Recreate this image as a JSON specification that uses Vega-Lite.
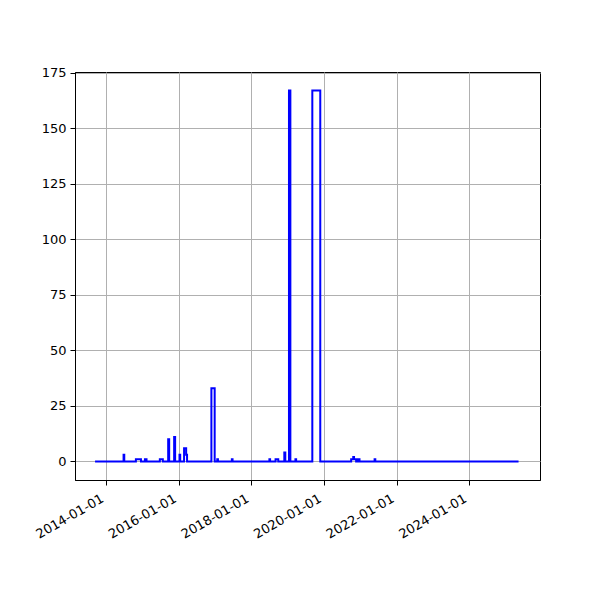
{
  "$schema": "https://vega.github.io/schema/vega-lite/v6.json",
  "width": 465,
  "height": 408,
  "padding": {"left": 75, "top": 72, "right": 60, "bottom": 120},
  "autosize": {"type": "none"},
  "background": "white",
  "config": {
    "view": {"stroke": "black", "strokeWidth": 1},
    "axis": {
      "labelFont": "DejaVu Sans",
      "labelFontSize": 13,
      "labelColor": "black",
      "domainColor": "black",
      "tickColor": "black",
      "tickSize": 5,
      "tickWidth": 1,
      "labelPadding": 4,
      "grid": true,
      "gridColor": "#b0b0b0",
      "gridWidth": 1,
      "title": null
    }
  },
  "data": {
    "values": [
      {"date": "2013-09-10", "value": 0},
      {"date": "2014-06-24", "value": 3},
      {"date": "2014-07-01", "value": 0},
      {"date": "2014-10-26", "value": 1},
      {"date": "2014-12-16", "value": 0},
      {"date": "2015-01-25", "value": 1},
      {"date": "2015-02-10", "value": 0},
      {"date": "2015-06-24", "value": 1},
      {"date": "2015-07-24", "value": 0},
      {"date": "2015-09-16", "value": 10},
      {"date": "2015-09-26", "value": 0},
      {"date": "2015-11-15", "value": 11},
      {"date": "2015-11-25", "value": 0},
      {"date": "2016-01-08", "value": 3},
      {"date": "2016-01-15", "value": 0},
      {"date": "2016-02-23", "value": 6},
      {"date": "2016-03-15", "value": 3},
      {"date": "2016-03-24", "value": 0},
      {"date": "2016-11-24", "value": 33},
      {"date": "2016-12-27", "value": 0},
      {"date": "2017-01-22", "value": 1},
      {"date": "2017-01-29", "value": 0},
      {"date": "2017-06-18", "value": 1},
      {"date": "2017-06-25", "value": 0},
      {"date": "2018-07-01", "value": 1},
      {"date": "2018-07-08", "value": 0},
      {"date": "2018-09-01", "value": 1},
      {"date": "2018-09-28", "value": 0},
      {"date": "2018-11-28", "value": 4},
      {"date": "2018-12-08", "value": 0},
      {"date": "2019-01-14", "value": 167},
      {"date": "2019-01-28", "value": 0},
      {"date": "2019-03-20", "value": 1},
      {"date": "2019-03-27", "value": 0},
      {"date": "2019-09-06", "value": 167},
      {"date": "2019-11-25", "value": 0},
      {"date": "2020-10-01", "value": 1},
      {"date": "2020-10-22", "value": 2},
      {"date": "2020-10-30", "value": 1},
      {"date": "2020-11-20", "value": 0},
      {"date": "2020-12-05", "value": 1},
      {"date": "2020-12-24", "value": 0},
      {"date": "2021-05-25", "value": 1},
      {"date": "2021-06-01", "value": 0},
      {"date": "2025-05-13", "value": 0}
    ]
  },
  "mark": {"type": "line", "interpolate": "step-after", "color": "#0000ff", "strokeWidth": 2, "clip": true},
  "encoding": {
    "x": {
      "field": "date",
      "type": "temporal",
      "scale": {
        "type": "utc",
        "domain": [
          {"year": 2013, "month": 2, "date": 20, "utc": true},
          {"year": 2025, "month": 12, "date": 15, "utc": true}
        ]
      },
      "axis": {
        "values": [
          {"year": 2014, "month": 1, "date": 1, "utc": true},
          {"year": 2016, "month": 1, "date": 1, "utc": true},
          {"year": 2018, "month": 1, "date": 1, "utc": true},
          {"year": 2020, "month": 1, "date": 1, "utc": true},
          {"year": 2022, "month": 1, "date": 1, "utc": true},
          {"year": 2024, "month": 1, "date": 1, "utc": true}
        ],
        "format": "%Y-%m-%d",
        "labelAngle": -30,
        "labelAlign": "right",
        "labelBaseline": "top",
        "labelOffset": -7,
        "labelPadding": 7
      }
    },
    "y": {
      "field": "value",
      "type": "quantitative",
      "scale": {"domain": [-8.35, 175.35], "nice": false, "zero": false},
      "axis": {"values": [0, 25, 50, 75, 100, 125, 150, 175]}
    }
  }
}
